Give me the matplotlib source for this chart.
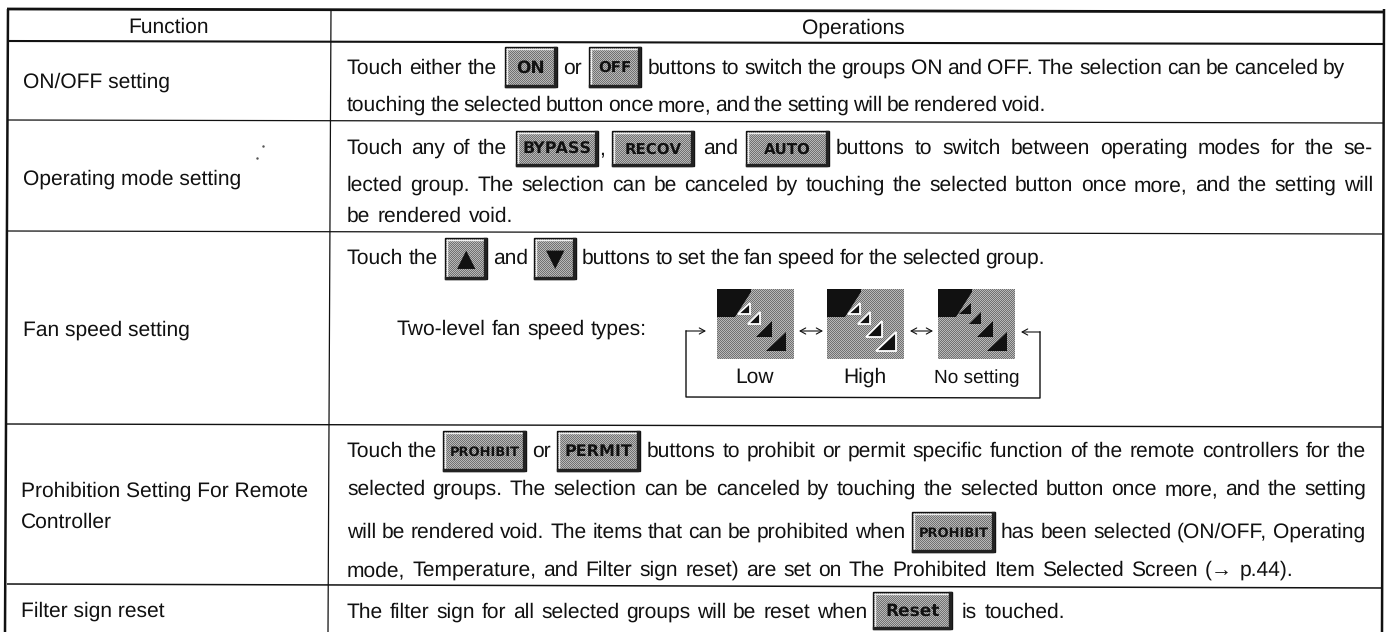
#!/usr/bin/env python3
import numpy as np
import matplotlib
matplotlib.use('Agg')
import matplotlib.pyplot as plt
from matplotlib.patches import Rectangle, Polygon

W, H = 1388, 632
FS = 15.3

# table rules, in picture pixels (the scan is slightly rotated)
h_rules = [(9, 12, 2.0), (41, 44, 1.5), (120, 123, 0.9), (231, 234, 0.9),
           (424, 427, 1.0), (584, 588, 1.1)]
v_rules = [(8, 5, 1.8), (331, 328, 0.9), (1384, 1382, 1.8)]

# x centre, baseline, text
headers = [(169, 33, 'Function'), (853, 33.5, 'Operations')]

# x, baseline, text
functions = [
    (23, 88, 'ON/OFF setting'),
    (23, 185, 'Operating mode setting'),
    (23, 336, 'Fan speed setting'),
    (21, 497, 'Prohibition Setting For Remote'),
    (21, 528, 'Controller'),
    (21, 617, 'Filter sign reset'),
]

# x start, x end, baseline, text
pieces = [
    (347, 497, 74, 'Touch either the'),
    (563, 581, 74, 'or'),
    (648, 1345, 74, 'buttons to switch the groups ON and OFF. The selection can be canceled by'),
    (347, 1046, 111, 'touching the selected button once more, and the setting will be rendered void.'),
    (347, 507, 154, 'Touch any of the'),
    (599, 604, 154, ','),
    (703, 738, 154, 'and'),
    (836, 1373, 154, 'buttons to switch between operating modes for the se-'),
    (347, 1373, 191, 'lected group. The selection can be canceled by touching the selected button once more, and the setting will'),
    (347, 513, 222, 'be rendered void.'),
    (347, 438, 264, 'Touch the'),
    (493, 528, 264, 'and'),
    (582, 1045, 264, 'buttons to set the fan speed for the selected group.'),
    (397, 647, 335, 'Two-level fan speed types:'),
    (347, 437, 457, 'Touch the'),
    (532, 550, 457, 'or'),
    (647, 1366, 457, 'buttons to prohibit or permit specific function of the remote controllers for the'),
    (347, 1366, 495, 'selected groups. The selection can be canceled by touching the selected button once more, and the setting'),
    (347, 905, 538, 'will be rendered void. The items that can be prohibited when'),
    (1001, 1365, 538, 'has been selected (ON/OFF, Operating'),
    (347, 1293, 576, 'mode, Temperature, and Filter sign reset) are set on The Prohibited Item Selected Screen (→ p.44).'),
    (347, 867, 618, 'The filter sign for all selected groups will be reset when'),
    (962, 1065, 618, 'is touched.'),
]

# x0, x1, y0, y1, label, label font size
buttons = [
    (505, 557, 47, 87, 'ON', 12),
    (589, 641, 47, 87, 'OFF', 11),
    (516, 598, 131, 166, 'BYPASS', 11.5),
    (612, 694, 131, 166, 'RECOV', 11),
    (746, 829, 131, 166, 'AUTO', 10.5),
    (445, 487, 238, 279, '▲', 17),
    (534, 576, 238, 279, '▼', 17),
    (443, 526, 431, 471, 'PROHIBIT', 9),
    (557, 640, 431, 471, 'PERMIT', 11.5),
    (912, 995, 512, 552, 'PROHIBIT', 9),
    (873, 952, 592, 629, 'Reset', 12),
]

# fan speed icons: left, label, how many triangles are outlined
fan_lefts = [717, 827, 938]
fan_names = ['Low', 'High', 'No setting']
fan_lit = [2, 4, 0]
fan_top = 289
fan_size = (77, 70)
fan_corner = [(0, 0), (34, 0), (34, 3), (18, 28), (0, 28)]
# x0, x1, y0, y1 of the right triangles inside an icon
fan_steps = [(21, 33, 14, 25), (31, 43, 23, 35), (39, 55, 32, 48), (49, 69, 43, 62)]
specks = [(263, 146), (257, 158)]

plt.rcParams['font.family'] = ['Liberation Sans', 'DejaVu Sans']
plt.rcParams['text.hinting'] = 'none'
plt.rcParams['text.hinting_factor'] = 1

fig = plt.figure(figsize=(W / 100, H / 100), dpi=100)
ax = fig.add_axes([0, 0, 1, 1])
renderer = fig.canvas.get_renderer()


def dither(x0, x1, y0, y1):
    chk = np.indices((int(y1 - y0), int(x1 - x0))).sum(axis=0) % 2
    ax.imshow(chk, cmap='gray', vmin=-1.6, vmax=2.0, extent=(x0, x1, y1, y0),
              interpolation='nearest', aspect='auto', zorder=0)


def justified(x0, x1, y, s):
    words = s.split(' ')
    arts = [ax.text(0, y, w, ha='left', va='baseline', fontsize=FS, color='#111111') for w in words]
    widths = [a.get_window_extent(renderer).width for a in arts]
    gap = (x1 - x0 - sum(widths)) / (len(words) - 1) if len(words) > 1 else 0
    x = x0
    for a, w in zip(arts, widths):
        a.set_x(x)
        x += w + gap


for x0, x1, y0, y1, s, fs in buttons:
    dither(x0, x1, y0, y1)
    ax.add_patch(Rectangle((x0, y0), x1 - x0, y1 - y0, fc='none', ec='#111111', lw=1.0))
    ax.plot([x0 + 2, x1 - 2], [y0 + 2, y0 + 2], color='#eeeeee', lw=1.0)
    ax.plot([x0 + 2, x0 + 2], [y0 + 2, y1 - 2], color='#eeeeee', lw=1.0)
    ax.plot([x1 - 1.5, x1 - 1.5, x0 + 1], [y0 + 1, y1 - 1.5, y1 - 1.5], color='#222222', lw=2.4)
    ax.text((x0 + x1) / 2, (y0 + y1) / 2 + 1, s, ha='center', va='center', fontsize=fs,
            fontweight='bold', family='DejaVu Sans', color='#111111')

fw, fh = fan_size
for left, name, lit in zip(fan_lefts, fan_names, fan_lit):
    dither(left, left + fw, fan_top, fan_top + fh)
    ax.add_patch(Polygon([(left + a, fan_top + b) for a, b in fan_corner], fc='#111111', ec='none'))
    for i, (a0, a1, b0, b1) in enumerate(fan_steps):
        pts = [(left + a0, fan_top + b1), (left + a1, fan_top + b0), (left + a1, fan_top + b1)]
        if i < lit:
            ax.add_patch(Polygon(pts, fc='#111111', ec='white', lw=1.3, zorder=2))
        else:
            ax.add_patch(Polygon(pts, fc='#111111', ec='none', zorder=2))
    if name == 'No setting':
        ax.text(left + fw / 2, 383, name, ha='center', va='baseline', fontsize=FS - 1.5,
                family=['Liberation Sans Narrow', 'Liberation Sans'], color='#111111')
    else:
        ax.text(left + fw / 2 - 1, 383, name, ha='center', va='baseline', fontsize=FS, color='#111111')

# loop of arrows round the fan icons
arrow = dict(color='#111111', lw=0.8, shrinkA=0, shrinkB=0)
for xa, xb in [(799, 823), (910, 933)]:
    ax.annotate('', xy=(xb, 331), xytext=(xa, 331),
                arrowprops=dict(arrowstyle='<->,head_width=0.22,head_length=0.4', **arrow))
ax.annotate('', xy=(706, 331), xytext=(686, 331),
            arrowprops=dict(arrowstyle='->,head_width=0.22,head_length=0.4', **arrow))
ax.annotate('', xy=(1021, 332), xytext=(1040, 332),
            arrowprops=dict(arrowstyle='->,head_width=0.22,head_length=0.4', **arrow))
ax.plot([686, 686, 1040, 1040], [331, 397, 398, 332], color='#111111', lw=1.0)

for yl, yr, lw in h_rules:
    ax.plot([7, 1383], [yl, yr], color='#111111', lw=lw, solid_capstyle='butt')
for xt, xb, lw in v_rules:
    ax.plot([xt, xb], [9, H], color='#111111', lw=lw, solid_capstyle='butt')

for x, y, s in headers:
    ax.text(x, y, s, ha='center', va='baseline', fontsize=FS, color='#111111')
for x, y, s in functions:
    ax.text(x, y, s, ha='left', va='baseline', fontsize=FS, color='#111111')
for x0, x1, y, s in pieces:
    justified(x0, x1, y, s)
for x, y in specks:
    ax.plot(x, y, marker='.', ms=1.5, color='#555555')

ax.set_xlim(0, W)
ax.set_ylim(H, 0)
ax.axis('off')

fig.savefig('out.png', dpi=100)
